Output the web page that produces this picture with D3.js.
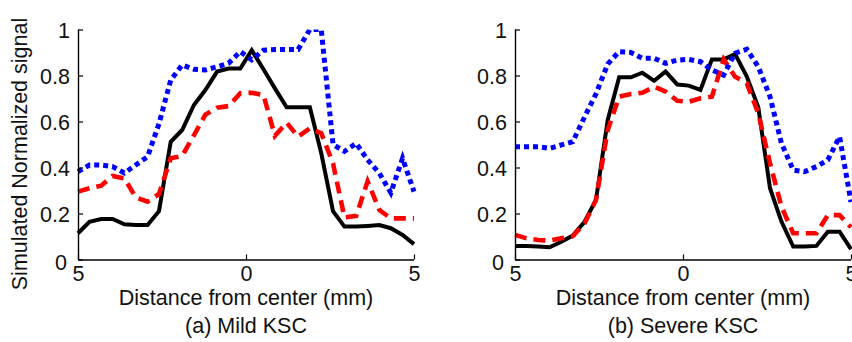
<!DOCTYPE html>
<html>
<head>
<meta charset="utf-8">
<script src="https://cdn.jsdelivr.net/npm/d3@7"></script>
<style>
  html, body { margin: 0; padding: 0; background: #fff; }
  svg { display: block; font-family: "Liberation Sans", Arial, sans-serif; }
</style>
</head>
<body>
<svg id="chart" width="852" height="342"></svg>
<script>
// ---- data ----
const distance = [-5, -4.66, -4.31, -3.97, -3.62, -3.28, -2.93, -2.59, -2.24, -1.90,
  -1.55, -1.21, -0.86, -0.52, -0.17, 0.17, 0.52, 0.86, 1.21, 1.55,
  1.90, 2.24, 2.59, 2.93, 3.28, 3.62, 3.97, 4.31, 4.66, 5];

const mildBlack = [0.114, 0.164, 0.176, 0.176, 0.153, 0.150, 0.150, 0.210, 0.512, 0.563,
  0.672, 0.737, 0.817, 0.830, 0.830, 0.910, 0.827, 0.744, 0.662, 0.662,
  0.662, 0.462, 0.210, 0.143, 0.143, 0.146, 0.150, 0.136, 0.107, 0.067];
const mildRed = [0.295, 0.310, 0.321, 0.363, 0.353, 0.270, 0.251, 0.285, 0.440, 0.450,
  0.540, 0.630, 0.660, 0.667, 0.723, 0.725, 0.715, 0.538, 0.595, 0.534,
  0.570, 0.549, 0.418, 0.183, 0.190, 0.340, 0.215, 0.179, 0.179, 0.179];
const mildBlue = [0.382, 0.411, 0.411, 0.404, 0.376, 0.411, 0.447, 0.590, 0.780, 0.846,
  0.827, 0.824, 0.838, 0.853, 0.904, 0.868, 0.910, 0.913, 0.913, 0.913,
  1.0, 1.0, 0.500, 0.470, 0.505, 0.433, 0.375, 0.290, 0.440, 0.295];

const severeBlack = [0.059, 0.059, 0.057, 0.053, 0.077, 0.104, 0.164, 0.259, 0.607, 0.792,
  0.792, 0.812, 0.777, 0.817, 0.761, 0.756, 0.737, 0.870, 0.870, 0.893,
  0.795, 0.662, 0.310, 0.165, 0.056, 0.056, 0.059, 0.121, 0.121, 0.045];
const severeRed = [0.107, 0.092, 0.085, 0.082, 0.092, 0.102, 0.157, 0.259, 0.563, 0.708,
  0.720, 0.725, 0.751, 0.730, 0.690, 0.686, 0.701, 0.708, 0.870, 0.795,
  0.766, 0.636, 0.418, 0.230, 0.114, 0.114, 0.114, 0.193, 0.193, 0.140];
const severeBlue = [0.490, 0.490, 0.490, 0.483, 0.498, 0.512, 0.620, 0.720, 0.850, 0.904,
  0.900, 0.875, 0.875, 0.853, 0.867, 0.870, 0.860, 0.824, 0.802, 0.897,
  0.914, 0.838, 0.708, 0.505, 0.389, 0.382, 0.404, 0.433, 0.534, 0.250];

const yTicks = [0, 0.2, 0.4, 0.6, 0.8, 1];
const yTickLabels = ["0", "0.2", "0.4", "0.6", "0.8", "1"];
const xTicks = [-5, 0, 5];
const xTickLabels = ["5", "0", "5"];
const xTitle = "Distance from center (mm)";
const yTitle = "Simulated Normalized signal";
const captions = ["(a) Mild KSC", "(b) Severe KSC"];

const panels = [
  { series: [mildBlack, mildRed, mildBlue], left: 78, caption: captions[0] },
  { series: [severeBlack, severeRed, severeBlue], left: 515, caption: captions[1] }
];
const styles = [
  { color: "#000000", width: 4, dash: null },
  { color: "#ff0000", width: 4.6, dash: "12,7" },
  { color: "#0000ff", width: 5, dash: "5,4" }
];

// ---- drawing ----
const svg = d3.select("#chart");
const W = 336, plotTop = 29.5, plotBottom = 259.5;
const FS = 21.5;

const y = d3.scaleLinear().domain([0, 1]).range([plotBottom, plotTop]);

panels.forEach((p, pi) => {
  const x = d3.scaleLinear().domain([-5, 5]).range([p.left, p.left + W]);
  const g = svg.append("g");

  const clipId = "clip" + pi;
  svg.append("clipPath").attr("id", clipId)
    .append("rect").attr("x", p.left - 3).attr("y", plotTop).attr("width", W + 6).attr("height", plotBottom - plotTop + 3);

  const line = d3.line().x((d, i) => x(distance[i])).y(d => y(d));
  const lg = g.append("g").attr("clip-path", `url(#${clipId})`);
  p.series.forEach((s, si) => {
    const st = styles[si];
    lg.append("path").datum(s)
      .attr("d", line)
      .attr("fill", "none")
      .attr("stroke", st.color)
      .attr("stroke-width", st.width)
      .attr("stroke-linejoin", "miter")
      .attr("stroke-dasharray", st.dash);
  });

  // axes
  const yAxis = d3.axisLeft(y).tickValues(yTicks).tickSize(-5).tickPadding(8)
    .tickFormat((d, i) => yTickLabels[i]);
  const ya = g.append("g").attr("transform", `translate(${p.left},0)`).call(yAxis);
  const xAxis = d3.axisBottom(x).tickValues(xTicks).tickSize(-5).tickPadding(5)
    .tickFormat((d, i) => xTickLabels[i]);
  const xa = g.append("g").attr("transform", `translate(0,${plotBottom})`).call(xAxis);

  [ya, xa].forEach(a => {
    a.select(".domain").attr("stroke", "#000").attr("stroke-width", 1.4);
    a.selectAll(".tick line").attr("stroke", "#000").attr("stroke-width", 1.2);
    a.selectAll(".tick text").attr("fill", "#111").attr("font-size", FS)
      .attr("font-family", "Liberation Sans, Arial, sans-serif");
  });
  ya.select(".domain").attr("d", `M0.5,${plotBottom}V${plotTop}`);
  xa.select(".domain").attr("d", `M${p.left},0.5H${p.left + W}`);
  ya.selectAll(".tick text").filter(d => d === 0).attr("x", -11).attr("dy", "0.45em");
  ya.selectAll(".tick text").filter(d => d !== 0).attr("dy", "0.38em");
  xa.selectAll(".tick text").attr("dy", "0.78em");

  // titles
  g.append("text").attr("x", p.left + W / 2).attr("y", 305)
    .attr("text-anchor", "middle").attr("font-size", FS).attr("fill", "#111")
    .text(xTitle);
  g.append("text").attr("x", p.left + W / 2).attr("y", 333)
    .attr("text-anchor", "middle").attr("font-size", FS).attr("fill", "#111")
    .text(p.caption);
});

svg.append("text")
  .attr("transform", "translate(27,154) rotate(-90)")
  .attr("text-anchor", "middle").attr("font-size", FS).attr("fill", "#111")
  .text(yTitle);
</script>
</body>
</html>
